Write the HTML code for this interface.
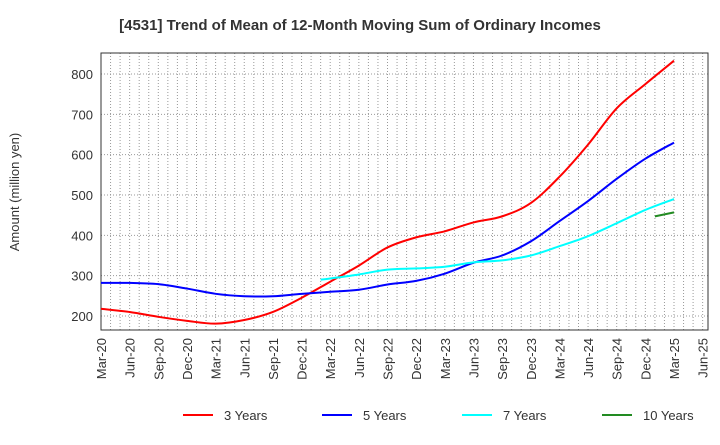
<!DOCTYPE html>
<html><head><meta charset="utf-8"><style>
body{margin:0;background:#fff;font-family:"Liberation Sans",sans-serif}
svg text{font-family:"Liberation Sans",sans-serif}
</style></head><body>
<svg id="c" width="720" height="440"></svg>
<script>
const xLabels=["Mar-20","Jun-20","Sep-20","Dec-20","Mar-21","Jun-21","Sep-21","Dec-21","Mar-22","Jun-22","Sep-22","Dec-22","Mar-23","Jun-23","Sep-23","Dec-23","Mar-24","Jun-24","Sep-24","Dec-24","Mar-25","Jun-25"];
const yTicks=[200,300,400,500,600,700,800];
const m3=[0,3,6,9,12,15,18,21,24,27,30,33,36,39,42,45,48,51,54,57,60];
const v3=[218,210,198,188,181,190,210,245,285,325,370,395,410,432,447,480,545,625,715,775,833];
const v5=[282,282,279,268,255,249,249,255,260,265,278,287,305,332,350,385,435,485,540,590,630];
const m7=[23,24,27,30,33,36,39,42,45,48,51,54,57,60];
const v7=[290,293,303,315,318,322,333,338,350,373,398,430,463,490];
const m10=[58,60];
const v10=[447,457];
const L=101,R=708,T=53,B=330;
const X=m=>L+m*(674-L)/60;
const Y=v=>316-(v-200)*(316-74)/600;
const s=document.getElementById('c');const NS='http://www.w3.org/2000/svg';
function el(t,a,p){const e=document.createElementNS(NS,t);for(const k in a)e.setAttribute(k,a[k]);(p||s).appendChild(e);return e;}
const t=el('text',{x:360,y:30,'text-anchor':'middle','font-size':15,'font-weight':'bold',fill:'#333'});t.textContent='[4531]  Trend of Mean of 12-Month Moving Sum of Ordinary Incomes';

for(let m=1;m<64;m++){const g=el('line',{x1:X(m),x2:X(m),y1:T,y2:B,stroke:'#999','stroke-dasharray':'1,2','stroke-width':1});}
yTicks.forEach(v=>{const g=el('line',{x1:L,x2:R,y1:Y(v),y2:Y(v),stroke:'#999','stroke-dasharray':'1,2'});
const tx=el('text',{x:L-8,y:Y(v)+5,'text-anchor':'end','font-size':13,fill:'#333'});tx.textContent=v;});
xLabels.forEach((lb,i)=>{const x=X(i*3);const tx=el('text',{transform:`translate(${x+5},${B+8}) rotate(-90)`,'text-anchor':'end','font-size':13,fill:'#333'});tx.textContent=lb;});
const fr=el('rect',{x:L,y:T,width:R-L,height:B-T,fill:'none',stroke:'#333'});
const yt=el('text',{transform:'translate(19,192) rotate(-90)','text-anchor':'middle','font-size':13,fill:'#333'});yt.textContent='Amount (million yen)';
function path(ms,vs){const p=ms.map((m,i)=>[X(m),Y(vs[i])]);let d=`M${p[0][0]},${p[0][1]}`;for(let i=0;i<p.length-1;i++){const p0=p[i-1]||p[i],p1=p[i],p2=p[i+1],p3=p[i+2]||p2;d+=`C${p1[0]+(p2[0]-p0[0])/6},${p1[1]+(p2[1]-p0[1])/6} ${p2[0]-(p3[0]-p1[0])/6},${p2[1]-(p3[1]-p1[1])/6} ${p2[0]},${p2[1]}`;}return d;}
const series=[[m3,v3,'#f00','3 Years'],[m3,v5,'#00f','5 Years'],[m7,v7,'#0ff','7 Years'],[m10,v10,'#228b22','10 Years']];
series.forEach(([ms,vs,c,n],i)=>{const p=el('path',{d:path(ms,vs),fill:'none',stroke:c,'stroke-width':2});
const lx=[183,322,462,602][i];const g=el('g',{});
el('line',{x1:lx,x2:lx+30,y1:415,y2:415,stroke:c,'stroke-width':2},g);const tx=el('text',{x:lx+41,y:420,'font-size':13,fill:'#333'},g);tx.textContent=n;});
</script></body></html>
